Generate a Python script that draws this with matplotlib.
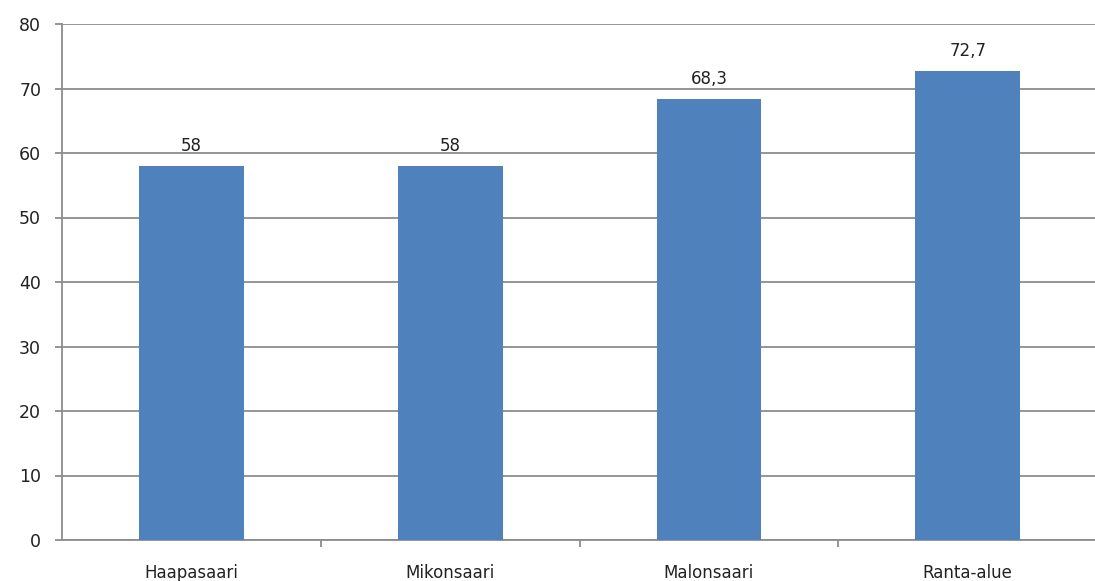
import matplotlib
matplotlib.use("Agg")
import matplotlib.pyplot as plt
from matplotlib.ticker import FixedLocator

categories = ["Haapasaari", "Mikonsaari", "Malonsaari", "Ranta-alue"]
values = [58, 58, 68.3, 72.7]
value_labels = ["58", "58", "68,3", "72,7"]
yticks = [0, 10, 20, 30, 40, 50, 60, 70, 80]

W, H = 1095, 581
fig = plt.figure(figsize=(W / 100, H / 100), dpi=100)
ax = fig.add_axes([62 / W, (H - 540) / H, (W - 62) / W + 0.002, (540 - 24) / H])

grid_c = "#8c8c8c"
bar_c = "#4f81bd"
x = list(range(len(categories)))
ax.bar(x, values, width=0.405, color=bar_c, zorder=3)
for xi, v, lab in zip(x, values, value_labels):
    ax.annotate(lab, (xi, v), xytext=(0, 8), textcoords="offset points",
                ha="center", va="bottom", fontsize=12, color="#222222",
                family="DejaVu Sans")

ax.set_xlim(-0.5, 3.5)
ax.set_ylim(0, 80)
ax.set_yticks(yticks)
ax.yaxis.grid(True, color=grid_c, linewidth=1.3, zorder=0)
ax.set_axisbelow(True)
for s in ["top", "right"]:
    ax.spines[s].set_visible(False)
ax.spines["left"].set_color(grid_c)
ax.spines["left"].set_linewidth(1.3)
ax.spines["bottom"].set_color(grid_c)
ax.spines["bottom"].set_linewidth(1.3)

ax.set_xticks(x)
ax.set_xticklabels(categories)
ax.xaxis.set_minor_locator(FixedLocator([0.5, 1.5, 2.5]))
ax.tick_params(axis="x", which="major", length=0, pad=17, labelsize=12, labelcolor="#222222")
ax.tick_params(axis="x", which="minor", length=5, color=grid_c, width=1.3)
ax.tick_params(axis="y", length=5, color=grid_c, width=1.3, labelsize=12.5, labelcolor="#222222", pad=10)

fig.savefig("out.png", dpi=100)
